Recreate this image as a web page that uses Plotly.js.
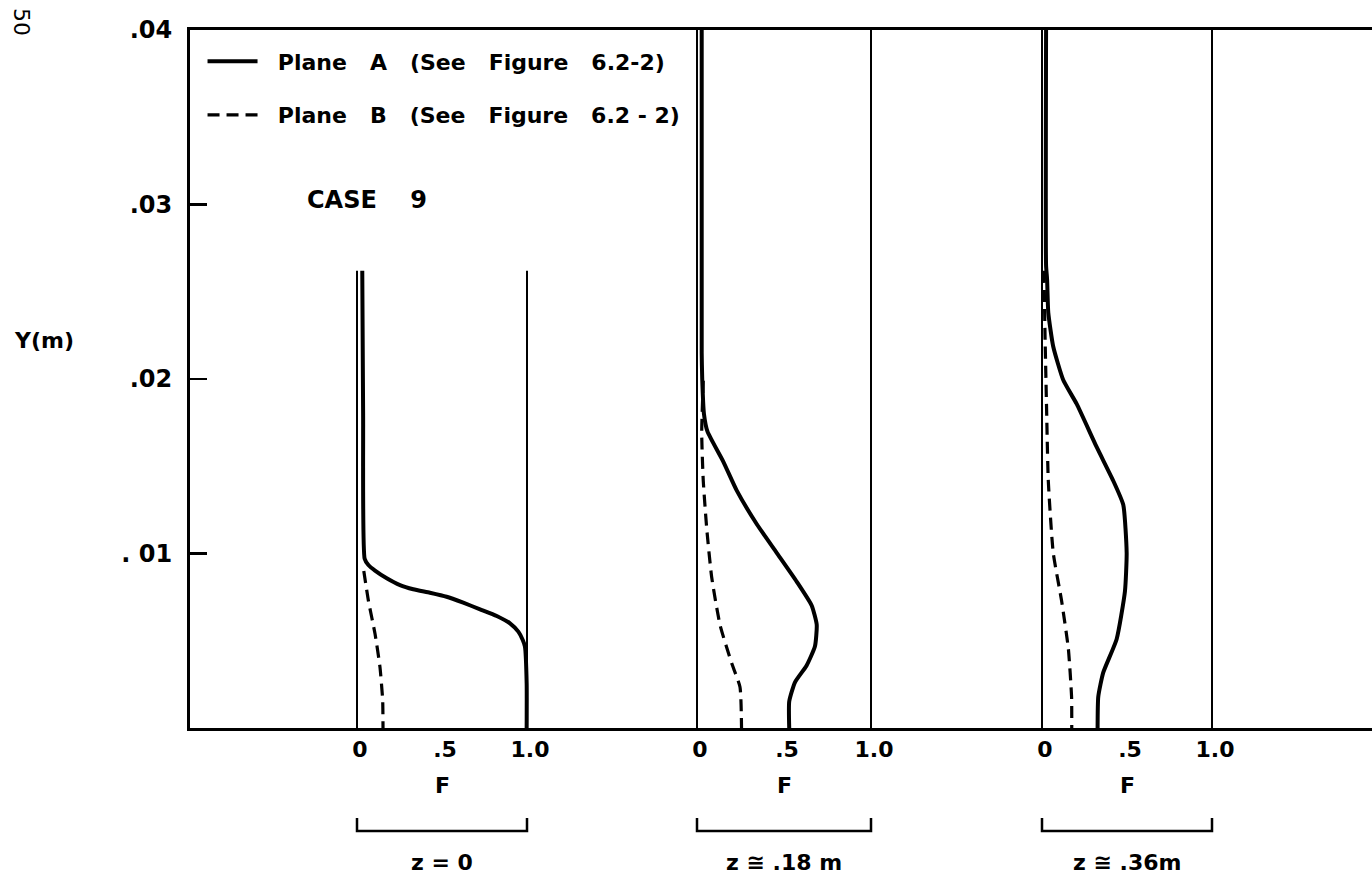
<!DOCTYPE html>
<html>
<head>
<meta charset="utf-8">
<script src="https://cdn.plot.ly/plotly-3.0.1.min.js"></script>
<style>
  html, body { margin: 0; padding: 0; background: #fff; }
  #chart { width: 1372px; height: 882px; }
</style>
</head>
<body>
<div id="chart"></div>
<script>
// ---- Data (F = concentration fraction, Y in metres) ----
const panelNames = ["z = 0", "z \u2245 .18 m", "z \u2245 .36m"];
const panelTop = [0.0262, 0.04, 0.04];           // height of the F=0 / F=1 guide lines
const yTickVals = [0.01, 0.02, 0.03, 0.04];
const yTickText = [". 01", ".02", ".03", ".04"];
const xTickVals = [0, 0.5, 1.0];
const xTickText = ["0", ".5", "1.0"];

// Plane A (solid)
const a1F = [0.031, 0.036, 0.045, 0.067, 0.106, 0.175, 0.253, 0.331, 0.429, 0.527, 0.625, 0.724, 0.822, 0.9, 0.949, 0.975, 0.988, 0.998, 0.998];
const a1Y = [0.0262, 0.0180, 0.0097, 0.00934, 0.00902, 0.00858, 0.00819, 0.00795, 0.00775, 0.00752, 0.00718, 0.0068, 0.00642, 0.006, 0.00552, 0.00504, 0.00466, 0.00256, 0.0];
const a2F = [0.027, 0.027, 0.030, 0.040, 0.060, 0.151, 0.228, 0.343, 0.458, 0.573, 0.659, 0.688, 0.678, 0.63, 0.563, 0.53, 0.53];
const a2Y = [0.040, 0.0215, 0.0200, 0.0180, 0.0170, 0.01527, 0.01362, 0.01169, 0.01004, 0.00839, 0.00702, 0.00592, 0.00468, 0.00358, 0.00262, 0.00152, 0.0];
const a3F = [0.024, 0.024, 0.030, 0.037, 0.066, 0.125, 0.204, 0.322, 0.419, 0.478, 0.498, 0.488, 0.439, 0.36, 0.331, 0.327];
const a3Y = [0.040, 0.0265, 0.0257, 0.0238, 0.02186, 0.01994, 0.01857, 0.01609, 0.01417, 0.01279, 0.01004, 0.00784, 0.00509, 0.00317, 0.00179, 0.0];

// Plane B (dashed)
const b1F = [0.040, 0.067, 0.106, 0.135, 0.151, 0.153];
const b1Y = [0.0090, 0.0073, 0.0054, 0.0035, 0.0016, 0.0];
const b2F = [0.036, 0.027, 0.036, 0.056, 0.084, 0.132, 0.199, 0.247, 0.256];
const b2Y = [0.0199, 0.0169, 0.01417, 0.01142, 0.00867, 0.00592, 0.00372, 0.00235, 0.0];
const b3F = [0.012, 0.018, 0.027, 0.037, 0.066, 0.115, 0.155, 0.174, 0.175];
const b3Y = [0.0262, 0.0224, 0.01828, 0.01417, 0.01004, 0.0073, 0.00455, 0.00179, 0.0];

// ---- Build traces ----
const FONT = "DejaVu Sans, Arial, sans-serif";
const W = "bold";
const axesIds = ["x", "x2", "x3"];
const solid = [[a1F, a1Y], [a2F, a2Y], [a3F, a3Y]];
const dashed = [[b1F, b1Y], [b2F, b2Y], [b3F, b3Y]];
const traces = [];

for (let i = 0; i < 3; i++) {
  [0, 1].forEach(f => {
    traces.push({
      x: [f, f], y: [0, panelTop[i]], xaxis: axesIds[i], yaxis: "y",
      mode: "lines", line: {color: "#000", width: 2},
      showlegend: false, hoverinfo: "skip"
    });
  });
}
const NB = "\u00a0\u00a0";
for (let i = 0; i < 3; i++) {
  traces.push({
    x: solid[i][0], y: solid[i][1], xaxis: axesIds[i], yaxis: "y",
    mode: "lines", line: {color: "#000", width: 4, shape: "spline", smoothing: 0.5},
    name: NB + "Plane   A   (See   Figure   6.2-2)", legendgroup: "A", showlegend: i === 0
  });
  traces.push({
    x: dashed[i][0], y: dashed[i][1], xaxis: axesIds[i], yaxis: "y",
    mode: "lines", line: {color: "#000", width: 3.2, dash: "12px,7px", shape: "spline", smoothing: 0.5},
    name: NB + "Plane   B   (See   Figure   6.2 - 2)", legendgroup: "B", showlegend: i === 0
  });
}

// ---- Axes (pixel placement of F=0 / F=1 in each panel) ----
const plotLeft = 190, plotRight = 1372;
const f0px = [357, 697, 1042], f1px = [527, 871, 1212];
function xRange(i) {
  const s = f1px[i] - f0px[i];
  return [(plotLeft - f0px[i]) / s, (plotRight - f0px[i]) / s];
}
function xAxis(i) {
  const ax = {
    range: xRange(i), domain: [0, 1], anchor: "y",
    tickmode: "array", tickvals: xTickVals, ticktext: xTickText,
    ticks: "", showgrid: false, zeroline: false,
    tickfont: {family: FONT, size: 22, weight: W, color: "#000"},
    ticklabelshift: 3,
    showline: true, linewidth: 3, linecolor: "#000", mirror: true,
    fixedrange: true
  };
  if (i > 0) ax.overlaying = "x";
  return ax;
}

// ---- Annotations & shapes ----
const annotations = [
  {xref: "paper", yref: "paper", x: (44 - 190) / 1182, y: (728 - 340) / 698, text: "Y(m)", showarrow: false,
   xanchor: "center", yanchor: "middle", font: {family: FONT, size: 22, weight: W, color: "#000"}},
  {xref: "paper", yref: "paper", x: (22 - 190) / 1182, y: (728 - 22) / 698, text: "50", showarrow: false, textangle: 90,
   xanchor: "center", yanchor: "middle", font: {family: FONT, size: 22, color: "#000"}},
  {xref: "paper", yref: "paper", x: (367 - 190) / 1182, y: (728 - 200) / 698, text: "CASE    9", showarrow: false,
   xanchor: "center", yanchor: "middle", font: {family: FONT, size: 24, weight: W, color: "#000"}}
];
const shapes = [];
for (let i = 0; i < 3; i++) {
  annotations.push({xref: axesIds[i], yref: "paper", x: 0.5, y: (728 - 785) / 698, text: "F",
    xanchor: "center", yanchor: "middle",
    showarrow: false, font: {family: FONT, size: 22, weight: W, color: "#000"}});
  annotations.push({xref: axesIds[i], yref: "paper", x: 0.5, y: (728 - 862) / 698, text: panelNames[i],
    xanchor: "center", yanchor: "middle",
    showarrow: false, font: {family: FONT, size: 22, weight: W, color: "#000"}});
  const yb = (728 - 831) / 698, yt = (728 - 818) / 698;
  shapes.push({type: "path", xref: axesIds[i], yref: "paper",
    path: `M0,${yt} L0,${yb} L1,${yb} L1,${yt}`,
    line: {color: "#000", width: 2.5}});
}

const layout = {
  width: 1372, height: 882,
  margin: {l: 190, r: 0, t: 30, b: 154},
  paper_bgcolor: "#fff", plot_bgcolor: "#fff",
  font: {family: FONT, color: "#000"},
  xaxis: xAxis(0), xaxis2: xAxis(1), xaxis3: xAxis(2),
  yaxis: {
    range: [0, 0.04], showline: true, linewidth: 3, linecolor: "#000",
    ticks: "inside", ticklen: 17, tickwidth: 2.5, tickcolor: "#000",
    tickmode: "array", tickvals: yTickVals, ticktext: yTickText,
    tickfont: {family: FONT, size: 24, weight: W, color: "#000"},
    ticklabelstandoff: 10,
    showgrid: false, zeroline: false, fixedrange: true
  },
  showlegend: true,
  legend: {
    x: 0.0106, y: 0.985, xanchor: "left", yanchor: "top",
    font: {family: FONT, size: 22, weight: W, color: "#000"},
    bgcolor: "rgba(0,0,0,0)", borderwidth: 0,
    traceorder: "grouped", tracegroupgap: 22, itemwidth: 50
  },
  annotations: annotations,
  shapes: shapes
};

Plotly.newPlot("chart", traces, layout, {displayModeBar: false, staticPlot: true});
</script>
</body>
</html>
